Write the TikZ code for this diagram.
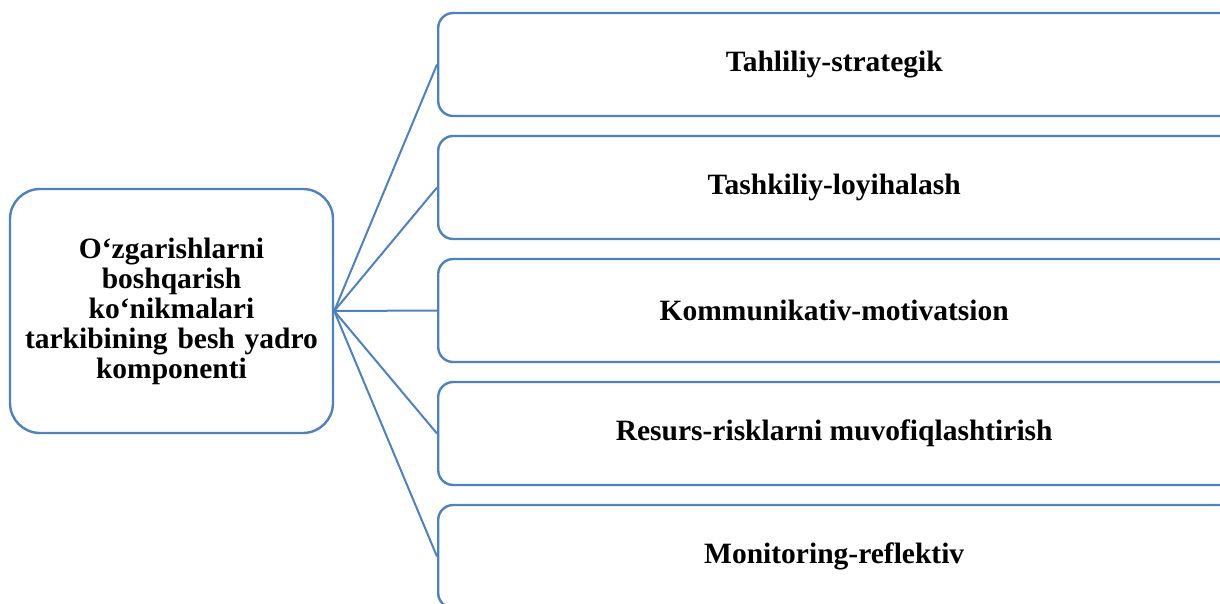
\documentclass[tikz,border=0pt]{standalone}
\usepackage{fontspec}
\setmainfont{Liberation Serif}
\usepackage{tikz}
\usetikzlibrary{calc,positioning}
\definecolor{boxblue}{RGB}{79,129,189}

\begin{document}
\begin{tikzpicture}[x=1pt,y=-1pt,
    hubbox/.style={draw=boxblue, line width=2.4pt, rounded corners=30pt, fill=white,
        minimum width=323pt, minimum height=244pt, text width=300pt, align=center,
        font=\fontsize{29.5}{30}\selectfont\bfseries},
    partbox/.style={draw=boxblue, line width=2.4pt, rounded corners=15pt, fill=white,
        minimum width=830pt, minimum height=103pt, anchor=west,
        label={[xshift=-19pt, font=\fontsize{29.5}{30}\selectfont\bfseries]center:#1}},
    link/.style={draw=boxblue, line width=2pt}]
                \useasboundingbox (0,0) rectangle (1220,603);
                \clip (0,0) rectangle (1220,603);
                \def\gap{123}
                \coordinate (top) at (437,64.5);
                \node[hubbox] (hub) at (171.5,311) {O‘zgarishlarni\\boshqarish\\ko‘nikmalari\\tarkibining besh yadro\\komponenti};
                \node[partbox={Tahliliy-strategik}] (c1) at (top) {};
                \node[partbox={Tashkiliy-loyihalash}] (c2) at ($(top)+(0,\gap)$) {};
                \node[partbox={Kommunikativ-motivatsion}] (c3) at ($(top)+(0,2*\gap)$) {};
                \node[partbox={Resurs-risklarni muvofiqlashtirish}] (c4) at ($(top)+(0,3*\gap)$) {};
                \node[partbox={Monitoring-reflektiv}] (c5) at ($(top)+(0,4*\gap)$) {};
                \draw[link] (hub.east) -- (c1.west);
                \draw[link] (hub.east) -- (c2.west);
                \draw[link] (hub.east) -- (c3.west);
                \draw[link] (hub.east) -- (c4.west);
                \draw[link] (hub.east) -- (c5.west);
\end{tikzpicture}
\end{document}
